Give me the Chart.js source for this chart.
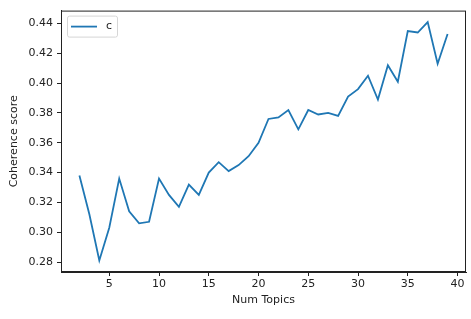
<!DOCTYPE html>
<html>
<head>
<meta charset="utf-8">
<script src="https://cdn.jsdelivr.net/npm/chart.js@4"></script>
<style>
  html, body { margin: 0; padding: 0; background: #fff; }
  #wrap { width: 471px; height: 319px; }
</style>
</head>
<body>
<div id="wrap"><canvas id="chart" width="471" height="319"></canvas></div>
<script>
const numTopics = [2, 3, 4, 5, 6, 7, 8, 9, 10, 11, 12, 13, 14, 15, 16, 17, 18, 19, 20,
  21, 22, 23, 24, 25, 26, 27, 28, 29, 30, 31, 32, 33, 34, 35, 36, 37, 38, 39];
const coherence = [0.338, 0.312, 0.281, 0.303, 0.336, 0.314, 0.306, 0.307, 0.336, 0.325,
  0.317, 0.332, 0.325, 0.340, 0.347, 0.341, 0.345, 0.351, 0.360,
  0.376, 0.377, 0.382, 0.369, 0.382, 0.379, 0.380, 0.378, 0.391, 0.396,
  0.405, 0.389, 0.412, 0.401, 0.435, 0.434, 0.441, 0.413, 0.433];
const xTicks = [5, 10, 15, 20, 25, 30, 35, 40];
const yTicks = [0.28, 0.30, 0.32, 0.34, 0.36, 0.38, 0.40, 0.42, 0.44];
const seriesLabel = "c";

const FONT = "'DejaVu Sans', sans-serif";
const LINE_COLOR = "#1f77b4";

// top + right spines and the boxed legend in the top-left corner
const framePlugin = {
  id: "frame",
  afterDraw(chart) {
    const { ctx, chartArea: a } = chart;
    ctx.save();
    ctx.strokeStyle = "#222";
    ctx.lineWidth = 1;
    ctx.strokeRect(a.left + 0.5, a.top + 0.5, a.right - a.left - 1, a.bottom - a.top - 1);

    const x = a.left + 6, y = a.top + 5, w = 50, h = 21;
    ctx.fillStyle = "rgba(255,255,255,0.8)";
    ctx.strokeStyle = "#d6d6d6";
    ctx.beginPath();
    ctx.roundRect(x + 0.5, y + 0.5, w, h, 2);
    ctx.fill();
    ctx.stroke();

    const ds = chart.data.datasets[0];
    ctx.strokeStyle = ds.borderColor;
    ctx.lineWidth = 1.8;
    ctx.beginPath();
    ctx.moveTo(x + 4, y + 11);
    ctx.lineTo(x + 30, y + 11);
    ctx.stroke();
    ctx.fillStyle = "#222";
    ctx.font = "11px " + FONT;
    ctx.textBaseline = "middle";
    ctx.fillText(ds.label, x + 39, y + 11);
    ctx.restore();
  },
};

new Chart(document.getElementById("chart"), {
  type: "line",
  data: {
    labels: numTopics,
    datasets: [{
      label: seriesLabel,
      data: numTopics.map((n, i) => ({ x: n, y: coherence[i] })),
      borderColor: LINE_COLOR,
      borderWidth: 1.8,
      pointRadius: 0,
      tension: 0,
      fill: false,
    }],
  },
  options: {
    responsive: false,
    animation: false,
    layout: { padding: { top: 10, right: 5, left: 8, bottom: 12 } },
    plugins: {
      legend: { display: false },
      tooltip: { enabled: false },
    },
    scales: {
      x: {
        type: "linear",
        min: 0.15,
        max: 40.85,
        afterBuildTicks: (scale) => { scale.ticks = xTicks.map((v) => ({ value: v })); },
        afterFit: (scale) => { scale.height = 35; },
        grid: { display: true, drawOnChartArea: false, drawTicks: true, tickLength: 4, color: "#222" },
        border: { display: true, color: "#222" },
        ticks: { color: "#222", font: { family: FONT, size: 11 }, padding: 2, maxRotation: 0 },
        title: { display: true, text: "Num Topics", color: "#222", font: { family: FONT, size: 11 }, padding: { top: 0, bottom: 0 } },
      },
      y: {
        min: 0.2733,
        max: 0.4487,
        afterBuildTicks: (scale) => { scale.ticks = yTicks.map((v) => ({ value: v })); },
        afterFit: (scale) => { scale.width = 53; },
        grid: { display: true, drawOnChartArea: false, drawTicks: true, tickLength: 4, color: "#222" },
        border: { display: true, color: "#222" },
        ticks: {
          color: "#222",
          font: { family: FONT, size: 11 },
          padding: 4,
          callback: (v) => v.toFixed(2),
        },
        title: { display: true, text: "Coherence score", color: "#222", font: { family: FONT, size: 11 }, padding: { top: 0, bottom: 2 } },
      },
    },
  },
  plugins: [framePlugin],
});
</script>
</body>
</html>
